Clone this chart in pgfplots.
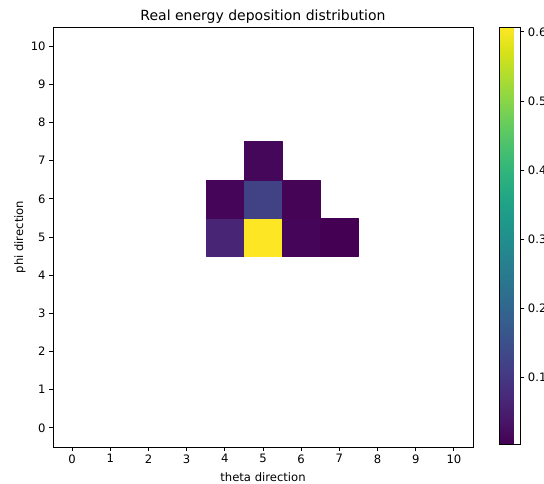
\documentclass[border=0pt]{standalone}
\usepackage{pgfplots}
\usepgfplotslibrary{patchplots}
\pgfplotsset{compat=1.18}
\usepackage{fontspec}
\setmainfont{DejaVu Sans}
\begin{document}
\begin{tikzpicture}
\begin{axis}[
  at={(0,0)}, anchor=south west,
  scale only axis, width=420pt, height=420pt,
  xmin=-0.5, xmax=10.5, ymin=-0.5, ymax=10.5,
  xtick={0,1,...,10}, ytick={0,1,...,10},
  xtick pos=bottom, ytick pos=left,
  tick align=outside, major tick length=3.9pt,
  tick style={black, line width=0.9pt},
  axis line style={line width=0.9pt},
  axis on top,
  xlabel={theta direction}, ylabel={phi direction},
  title={Real energy deposition distribution},
  ticklabel style={font=\fontsize{11.6}{13}\selectfont},
  label style={font=\fontsize{11.6}{13}\selectfont},
  xlabel style={at={(axis description cs:0.5,-0.0833)}, anchor=base},
  ylabel style={at={(axis description cs:-0.0714,0.5)}, anchor=base},
  title style={font=\fontsize{14}{16}\selectfont, at={(axis description cs:0.5,1)}, anchor=base},
  /pgf/number format/assume math mode=true,
  colormap/viridis,
  colorbar,
  point meta min=0.004, point meta max=0.607,
  colorbar style={
    at={(parent axis.north east)}, anchor=north west, xshift=18pt,
    scale only axis, width=21pt, height=417pt,
    ytick={0.1,0.2,0.3,0.4,0.5,0.6},
    ytick pos=right,
    yticklabel style={font=\fontsize{11.6}{13}\selectfont, xshift=0pt, /pgf/number format/fixed, /pgf/number format/precision=1, /pgf/number format/fixed zerofill},
    /pgf/number format/assume math mode=true,
    tick align=outside, major tick length=3.9pt,
    tick style={black, line width=0.9pt},
    axis line style={line width=0.9pt},
  },
]
\addplot[patch, patch type=rectangle, shader=flat, point meta=explicit]
table[meta=c] {
x y c
3.5 4.5 0.065
4.5 4.5 0.065
4.5 5.5 0.065
3.5 5.5 0.065
4.5 4.5 0.607
5.5 4.5 0.607
5.5 5.5 0.607
4.5 5.5 0.607
5.5 4.5 0.012
6.5 4.5 0.012
6.5 5.5 0.012
5.5 5.5 0.012
6.5 4.5 0.004
7.5 4.5 0.004
7.5 5.5 0.004
6.5 5.5 0.004
3.5 5.5 0.012
4.5 5.5 0.012
4.5 6.5 0.012
3.5 6.5 0.012
4.5 5.5 0.120
5.5 5.5 0.120
5.5 6.5 0.120
4.5 6.5 0.120
5.5 5.5 0.008
6.5 5.5 0.008
6.5 6.5 0.008
5.5 6.5 0.008
4.5 6.5 0.014
5.5 6.5 0.014
5.5 7.5 0.014
4.5 7.5 0.014
};
\end{axis}
\pgfresetboundingbox
\useasboundingbox (-53pt,-37pt) rectangle (491pt,447pt);
\end{tikzpicture}
\end{document}
